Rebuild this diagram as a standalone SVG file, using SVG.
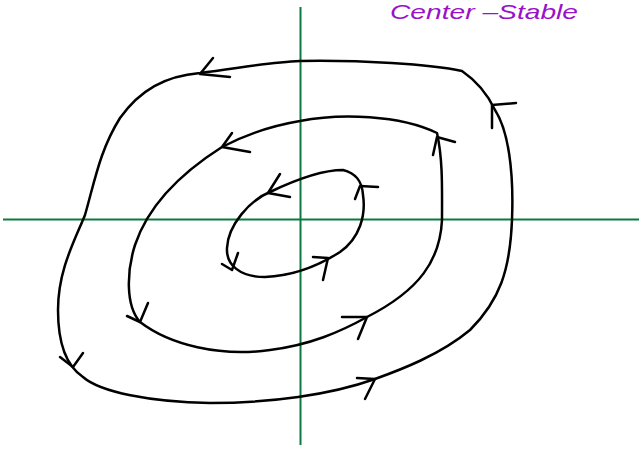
<svg xmlns="http://www.w3.org/2000/svg" width="639" height="449" viewBox="0 0 639 449">
<style>
.axis{stroke:#0b7a3f;stroke-width:2;fill:none}
.orbit{stroke:#000;stroke-width:2.5;fill:none;stroke-linecap:round;stroke-linejoin:round}
.arr{stroke:#000;stroke-width:2.5;fill:none;stroke-linecap:round;stroke-linejoin:round}
.title{font-family:"Liberation Sans","DejaVu Sans",sans-serif;font-style:italic;font-size:21px;fill:#9a12c8}
</style>
<rect width="639" height="449" fill="#fff"/>
<g id="axes">
<line class="axis" x1="3" y1="219.5" x2="639" y2="219.5"/>
<line class="axis" x1="300.5" y1="7" x2="300.5" y2="445"/>
</g>
<g id="title">
<text class="title" x="390" y="19" textLength="188" lengthAdjust="spacingAndGlyphs">Center –Stable</text>
</g>
<g id="connectors">
<g id="outer">
<path class="orbit" d="M300 61 C360 60,430 64,462 71 C478 82,488 95,495 110 C508 130,514 170,512 220 C510 270,500 300,470 330 C440 355,400 370,375 379 C330 395,270 403,210 403 C150 402,100 392,83 377 C65 365,58 340,58 310 C58 270,75 240,85 215 C95 180,100 150,120 118 C140 90,165 76,200 73 C240 68,270 62,300 61 Z"/>
<polyline class="arr" points="213,58 200,74 230,77"/>
<polyline class="arr" points="492,128 492,105 516,103"/>
<polyline class="arr" points="357,378 375,379 365,399"/>
<polyline class="arr" points="60,357 73,367 83,353"/>
</g>
<g id="middle">
<path class="orbit" d="M300 121 C340 113,400 115,437 133 C443 160,442 190,442 220 C440 260,420 290,367 317 C340 332,310 345,270 350 C220 357,170 345,140 322 C125 305,127 270,135 245 C145 215,170 180,222 147 C245 135,270 126,300 121 Z"/>
<polyline class="arr" points="232,133 222,147 250,152"/>
<polyline class="arr" points="433,155 437,137 455,142"/>
<polyline class="arr" points="342,317 367,317 358,339"/>
<polyline class="arr" points="127,316 140,322 148,303"/>
</g>
<g id="inner">
<path class="orbit" d="M343 170 C355 173,362 180,363 195 C366 215,360 238,340 252 C315 268,290 276,265 277 C240 277,226 265,227 248 C228 225,250 200,270 192 C295 180,320 170,343 170 Z"/>
<polyline class="arr" points="280,174 268,193 290,197"/>
<polyline class="arr" points="355,199 360,186 378,187"/>
<polyline class="arr" points="313,257 328,258 323,280"/>
<polyline class="arr" points="222,264 232,270 238,253"/>
</g>
</g>
</svg>
